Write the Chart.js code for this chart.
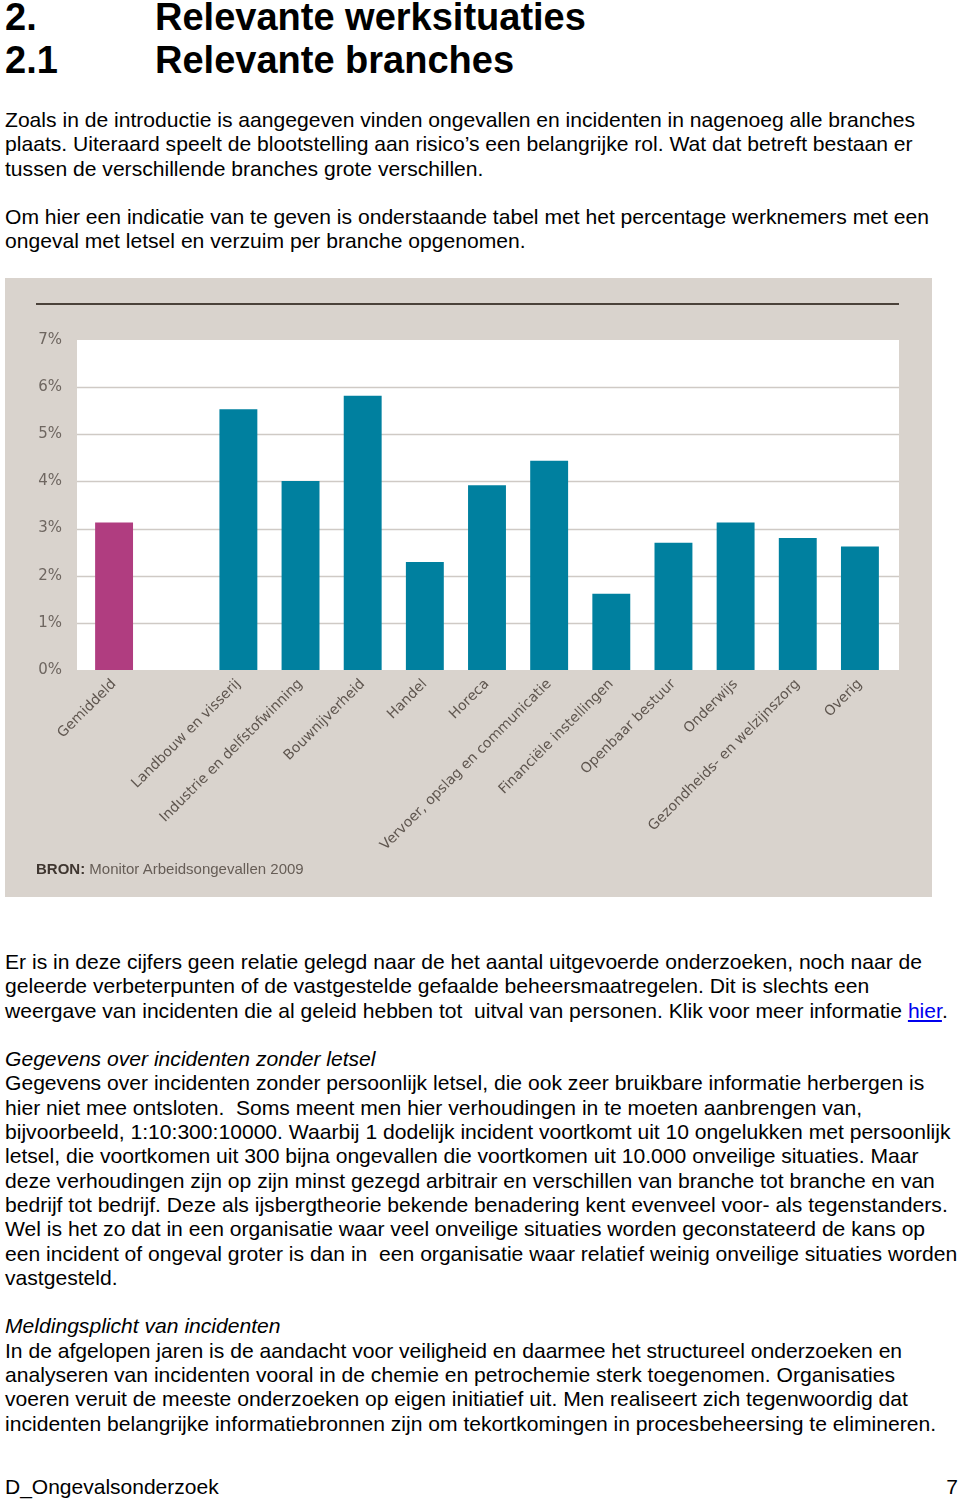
<!DOCTYPE html>
<html>
<head>
<meta charset="utf-8">
<script src="https://cdn.jsdelivr.net/npm/chart.js@4.4.0/dist/chart.umd.min.js"></script>
<style>
  body { margin: 0; background: #fff; font-family: "Liberation Sans", Arial, sans-serif; color: #000; }
  #page { position: relative; width: 960px; height: 1501px; overflow: hidden; }
  .h { position: absolute; font-weight: bold; font-size: 38px; line-height: 43px; white-space: nowrap; }
  .txt { position: absolute; left: 5px; font-size: 21.1px; line-height: 24.3px; white-space: nowrap; }
  .txt div { height: 24.3px; }
  .txt i { font-style: italic; }
  .txt a { color: #0000ee; text-decoration: underline; }
  #panel { position: absolute; left: 5px; top: 278px; width: 927px; height: 619px; background: #d9d3cd; }
  #rule { position: absolute; left: 31px; top: 25px; width: 863px; height: 2px; background: #4b423a; }
  #bron { position: absolute; left: 31px; top: 582px; font-size: 15px; color: #665d56; white-space: nowrap; }
  #bron b { color: #3f3630; }
  #foot { position: absolute; top: 1475px; left: 5px; right: 2px; font-size: 21px; }
</style>
</head>
<body>
<div id="page">
  <div class="h" style="left:5px;top:-4px">2.</div>
  <div class="h" style="left:155px;top:-4px">Relevante werksituaties</div>
  <div class="h" style="left:5px;top:39px">2.1</div>
  <div class="h" style="left:155px;top:39px">Relevante branches</div>

  <div class="txt" style="top:108px">
    <div>Zoals in de introductie is aangegeven vinden ongevallen en incidenten in nagenoeg alle branches</div>
    <div>plaats. Uiteraard speelt de blootstelling aan risico’s een belangrijke rol. Wat dat betreft bestaan er</div>
    <div>tussen de verschillende branches grote verschillen.</div>
    <div></div>
    <div>Om hier een indicatie van te geven is onderstaande tabel met het percentage werknemers met een</div>
    <div>ongeval met letsel en verzuim per branche opgenomen.</div>
  </div>

  <div id="panel">
    <div id="rule"></div>
    <canvas id="chart" width="927" height="619"></canvas>
    <div id="bron"><b>BRON:</b> Monitor Arbeidsongevallen 2009</div>
  </div>

  <div class="txt" style="top:950px">
    <div>Er is in deze cijfers geen relatie gelegd naar de het aantal uitgevoerde onderzoeken, noch naar de</div>
    <div>geleerde verbeterpunten of de vastgestelde gefaalde beheersmaatregelen. Dit is slechts een</div>
    <div>weergave van incidenten die al geleid hebben tot&nbsp; uitval van personen. Klik voor meer informatie <a>hier</a>.</div>
    <div></div>
    <div><i>Gegevens over incidenten zonder letsel</i></div>
    <div>Gegevens over incidenten zonder persoonlijk letsel, die ook zeer bruikbare informatie herbergen is</div>
    <div>hier niet mee ontsloten.&nbsp; Soms meent men hier verhoudingen in te moeten aanbrengen van,</div>
    <div>bijvoorbeeld, 1:10:300:10000. Waarbij 1 dodelijk incident voortkomt uit 10 ongelukken met persoonlijk</div>
    <div>letsel, die voortkomen uit 300 bijna ongevallen die voortkomen uit 10.000 onveilige situaties. Maar</div>
    <div>deze verhoudingen zijn op zijn minst gezegd arbitrair en verschillen van branche tot branche en van</div>
    <div>bedrijf tot bedrijf. Deze als ijsbergtheorie bekende benadering kent evenveel voor- als tegenstanders.</div>
    <div>Wel is het zo dat in een organisatie waar veel onveilige situaties worden geconstateerd de kans op</div>
    <div>een incident of ongeval groter is dan in&nbsp; een organisatie waar relatief weinig onveilige situaties worden</div>
    <div>vastgesteld.</div>
    <div></div>
    <div><i>Meldingsplicht van incidenten</i></div>
    <div>In de afgelopen jaren is de aandacht voor veiligheid en daarmee het structureel onderzoeken en</div>
    <div>analyseren van incidenten vooral in de chemie en petrochemie sterk toegenomen. Organisaties</div>
    <div>voeren veruit de meeste onderzoeken op eigen initiatief uit. Men realiseert zich tegenwoordig dat</div>
    <div>incidenten belangrijke informatiebronnen zijn om tekortkomingen in procesbeheersing te elimineren.</div>
  </div>

  <div id="foot"><span>D_Ongevalsonderzoek</span><span style="float:right">7</span></div>
</div>

<script>
/* ─── data ─────────────────────────────────────────────── */
const BRANCHES = [
  'Gemiddeld', '', 'Landbouw en visserij', 'Industrie en delfstofwinning', 'Bouwnijverheid',
  'Handel', 'Horeca', 'Vervoer, opslag en communicatie', 'Financiële instellingen',
  'Openbaar bestuur', 'Onderwijs', 'Gezondheids- en welzijnszorg', 'Overig',
];
const PERCENTAGES = [3.13, null, 5.53, 4.01, 5.82, 2.29, 3.92, 4.44, 1.62, 2.70, 3.13, 2.80, 2.62];
const Y_TICKS = [0, 1, 2, 3, 4, 5, 6, 7];

const MAGENTA = '#b03d80';
const TEAL    = '#00809f';

// witte plotvlak + rasterlijnen, iets breder dan het chartArea
const plotBackground = {
  id: 'plotBackground',
  beforeDatasetsDraw(chart) {
    const { ctx, chartArea: a, scales: { y } } = chart;
    const left = a.left - 6, right = a.right + 8;
    ctx.save();
    ctx.fillStyle = '#ffffff';
    ctx.fillRect(left, a.top, right - left, a.bottom - a.top);
    ctx.strokeStyle = '#cfcac5';
    ctx.lineWidth = 1.5;
    Y_TICKS.slice(1, -1).forEach(v => {
      const py = Math.round(y.getPixelForValue(v)) + 0.5;
      ctx.beginPath(); ctx.moveTo(left, py); ctx.lineTo(right, py); ctx.stroke();
    });
    ctx.restore();
  },
};

new Chart(document.getElementById('chart'), {
  type: 'bar',
  data: {
    labels: BRANCHES,
    datasets: [{
      data: PERCENTAGES,
      backgroundColor: BRANCHES.map((b, i) => i === 0 ? MAGENTA : TEAL),
      categoryPercentage: 1, barPercentage: 0.61, borderWidth: 0,
    }],
  },
  options: {
    responsive: false, animation: false,
    layout: { padding: { top: 62, right: 41, left: 0, bottom: 0 } },
    plugins: { legend: { display: false }, tooltip: { enabled: false } },
    scales: {
      x: {
        grid: { display: false, drawTicks: false }, border: { display: false },
        ticks: {
          autoSkip: false, minRotation: 45, maxRotation: 45, padding: 6,
          color: '#5f564f', font: { family: 'DejaVu Sans', size: 14 },
        },
        afterFit: s => { s.height = 227; },
      },
      y: {
        min: 0, max: 7,
        grid: { display: false, drawTicks: false }, border: { display: false },
        ticks: {
          stepSize: 1, padding: 21, color: '#6e6660',
          font: { family: 'DejaVu Sans', size: 15 },
          callback: v => v + '%',
        },
        afterFit: s => { s.width = 78; },
      },
    },
  },
  plugins: [plotBackground],
});
</script>
</body>
</html>
